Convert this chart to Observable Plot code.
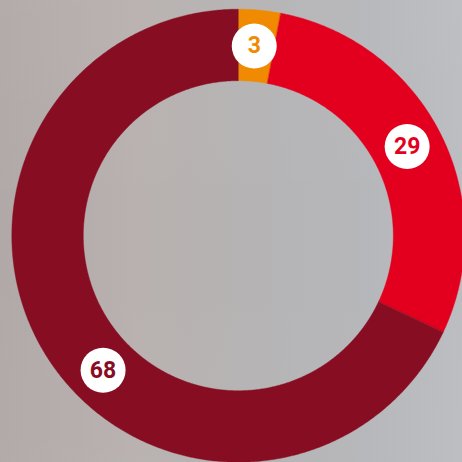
<!DOCTYPE html>
<html><head><meta charset="utf-8">
<script src="https://cdn.jsdelivr.net/npm/d3@7"></script>
<script src="https://cdn.jsdelivr.net/npm/@observablehq/plot@0.6"></script>
<style>
html,body{margin:0;padding:0;overflow:hidden;width:462px;height:462px;}
body{background:
  linear-gradient(180deg, rgba(255,255,255,0.03) 0%, rgba(255,255,255,0) 50%, rgba(255,255,255,0.02) 100%),
  linear-gradient(90deg,#b1a9a7 0%,#b8b1af 30%,#b5b3b4 55%,#b6b7ba 80%,#bbbdc1 100%);}
#chart svg{display:block;}
</style></head><body><div id="chart"></div>
<script>
// Data
const segments = ["Segment A", "Segment B", "Segment C"];
const values = [3, 29, 68];
const valueLabels = ["3", "29", "68"];

// Styling / layout
const colors = ["#f08a00", "#e2001e", "#870d22"];
const W = 462, H = 462;
const cx = 238.3, cy = 235.7, Rpx = 226.5, rpx = 155;
const innerRatio = rpx / Rpx;
const labelRadius = (1 + innerRatio) / 2;
const labelFrac = [0.43, 0.49, 0.45]; // where along each slice the badge sits

const total = d3.sum(values);
const arcRows = [];
const labelRows = [];
let acc = 0;
values.forEach((v, i) => {
  const a0 = acc / total * 2 * Math.PI;
  const a1 = (acc + v) / total * 2 * Math.PI;
  const n = Math.max(2, Math.ceil((a1 - a0) / (Math.PI / 360)));
  for (let k = 0; k <= n; k++) {
    const a = a0 + (a1 - a0) * k / n;
    arcRows.push({
      seg: segments[i],
      xi: innerRatio * Math.sin(a), yi: innerRatio * Math.cos(a),
      xo: Math.sin(a), yo: Math.cos(a)
    });
  }
  const am = a0 + (a1 - a0) * labelFrac[i];
  labelRows.push({seg: segments[i], label: valueLabels[i],
    x: labelRadius * Math.sin(am), y: labelRadius * Math.cos(am)});
  acc += v;
});

const chart = Plot.plot({
  width: W, height: H,
  margin: 0,
  style: {background: "transparent", overflow: "hidden"},
  x: {domain: [-cx / Rpx, (W - cx) / Rpx], axis: null},
  y: {domain: [-(H - cy) / Rpx, cy / Rpx], axis: null},
  color: {domain: segments, range: colors},
  marks: [
    Plot.area(arcRows, {x1: "xi", y1: "yi", x2: "xo", y2: "yo", z: "seg",
      fill: "seg", stroke: "seg", strokeWidth: 0.4, curve: "linear", clip: true}),
    Plot.dot(labelRows, {x: "x", y: "y", r: 22.5, fill: "white", stroke: "none"}),
    Plot.text(labelRows, {x: "x", y: "y", text: "label", fill: "seg",
      fontSize: 23, fontWeight: "bold", fontFamily: "Roboto, 'DejaVu Sans', sans-serif"})
  ]
});
document.getElementById("chart").appendChild(chart);
</script>
</body></html>
